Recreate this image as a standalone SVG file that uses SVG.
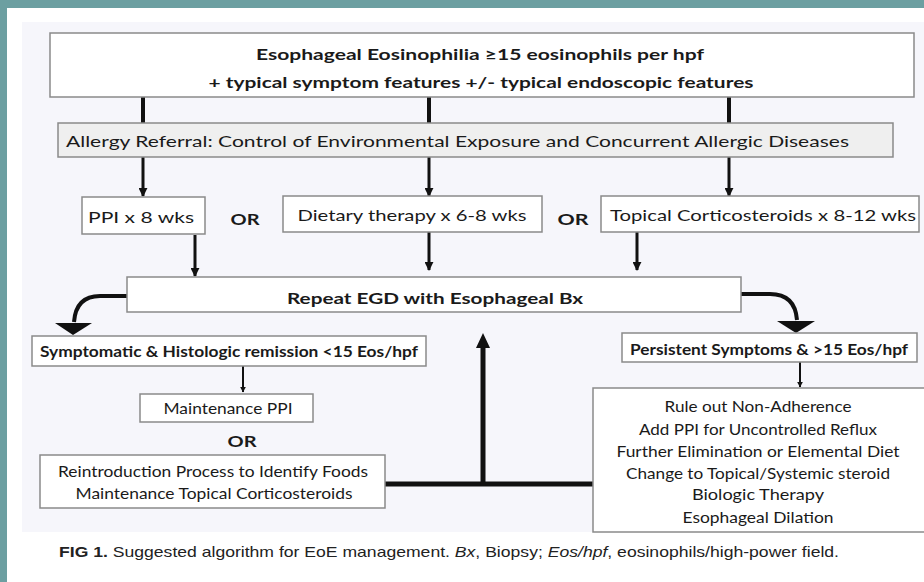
<svg xmlns="http://www.w3.org/2000/svg" width="924" height="582" viewBox="0 0 924 582">
<defs>
<style>
.box{fill:#ffffff;stroke:#8a8a8a;stroke-width:1.5}
.gbox{fill:#efefef;stroke:#8a8a8a;stroke-width:1.5}
.t{font-family:Lato,"Liberation Sans",sans-serif;fill:#1a1a1a;font-size:16px}
.b{font-weight:bold}
.c{text-anchor:middle}
.ln{stroke:#111;fill:none}
.cap{font-family:"Liberation Sans",Arial,sans-serif;fill:#222;font-size:15px}
</style>
<marker id="ah" viewBox="0 0 10 10" refX="9" refY="5" markerWidth="3" markerHeight="3" orient="auto" markerUnits="strokeWidth">
<path d="M0,0 L10,5 L0,10 z" fill="#111"/>
</marker>
</defs>
<rect x="0" y="0" width="924" height="582" fill="#6c9fa1"/>
<rect x="7" y="8" width="917" height="574" fill="#ffffff"/>
<rect x="22" y="22" width="902" height="510" fill="#f6f6fb"/>

<g id="connectors">
<line class="ln" x1="143" y1="97" x2="143" y2="123" stroke-width="4"/>
<line class="ln" x1="429" y1="97" x2="429" y2="123" stroke-width="4"/>
<line class="ln" x1="729" y1="97" x2="729" y2="123" stroke-width="4"/>
<line class="ln" x1="143" y1="157" x2="143" y2="196" stroke-width="3" marker-end="url(#ah)"/>
<line class="ln" x1="429" y1="157" x2="429" y2="196" stroke-width="3" marker-end="url(#ah)"/>
<line class="ln" x1="729" y1="157" x2="729" y2="196" stroke-width="3" marker-end="url(#ah)"/>
<line class="ln" x1="195" y1="235" x2="195" y2="276" stroke-width="3" marker-end="url(#ah)"/>
<line class="ln" x1="429" y1="232" x2="429" y2="270" stroke-width="3" marker-end="url(#ah)"/>
<line class="ln" x1="637" y1="232" x2="637" y2="270" stroke-width="3" marker-end="url(#ah)"/>
<path class="ln" d="M127,296 L100,296 Q76,296 74,322" stroke-width="4"/>
<polygon points="55,323 92,323 73,335" fill="#111"/>
<path class="ln" d="M741,294 L770,294 Q795,294 797,320" stroke-width="4"/>
<polygon points="777,321 815,321 796,333" fill="#111"/>
<line class="ln" x1="243" y1="366" x2="243" y2="392" stroke-width="2" marker-end="url(#ah)"/>
<line class="ln" x1="800" y1="362" x2="800" y2="387" stroke-width="2" marker-end="url(#ah)"/>
<line class="ln" x1="385" y1="484" x2="593" y2="484" stroke-width="5"/>
<line class="ln" x1="483" y1="486" x2="483" y2="346" stroke-width="5"/>
<polygon points="476,348 490,348 483,333" fill="#111"/>
</g>

<g id="n-top">
<rect class="box" x="50" y="33" width="864" height="64"/>
<text class="t b c" x="480" y="60" font-size="19.5" textLength="448" lengthAdjust="spacingAndGlyphs">Esophageal Eosinophilia ≥15 eosinophils per hpf</text>
<text class="t b c" x="481" y="88" font-size="19.5" textLength="545" lengthAdjust="spacingAndGlyphs">+ typical symptom features +/- typical endoscopic features</text>
</g>
<g id="n-allergy">
<rect class="gbox" x="58" y="123" width="835" height="34"/>
<text class="t" x="66" y="147" font-size="18.5" textLength="783" lengthAdjust="spacingAndGlyphs">Allergy Referral:  Control of Environmental Exposure and Concurrent Allergic Diseases</text>
</g>
<g id="n-ppi">
<rect class="box" x="82" y="197" width="123" height="37"/>
<text class="t" x="88" y="223" font-size="17.5" textLength="106" lengthAdjust="spacingAndGlyphs">PPI  x 8 wks</text>
</g>
<text class="t b c" x="245" y="225" font-size="19" textLength="29" lengthAdjust="spacingAndGlyphs">OR</text>
<g id="n-diet">
<rect class="box" x="283" y="196" width="259" height="36"/>
<text class="t c" x="412" y="221" font-size="17.5" textLength="229" lengthAdjust="spacingAndGlyphs">Dietary therapy x 6-8 wks</text>
</g>
<text class="t b c" x="573" y="225" font-size="19" textLength="31" lengthAdjust="spacingAndGlyphs">OR</text>
<g id="n-topical">
<rect class="box" x="601" y="196" width="318" height="36"/>
<text class="t c" x="763" y="221" font-size="17.5" textLength="306" lengthAdjust="spacingAndGlyphs">Topical Corticosteroids x 8-12 wks</text>
</g>
<g id="n-repeat">
<rect class="box" x="127" y="277" width="614" height="35"/>
<text class="t b c" x="435" y="304" font-size="17.5" textLength="296" lengthAdjust="spacingAndGlyphs">Repeat EGD with Esophageal Bx</text>
</g>
<g id="n-remission">
<rect class="box" x="32" y="336" width="394" height="30"/>
<text class="t b c" x="229" y="357" font-size="15.5" textLength="378" lengthAdjust="spacingAndGlyphs">Symptomatic &amp; Histologic remission &lt;15 Eos/hpf</text>
</g>
<g id="n-persistent">
<rect class="box" x="622" y="333" width="295" height="29"/>
<text class="t b c" x="769" y="355" font-size="15.5" textLength="278" lengthAdjust="spacingAndGlyphs">Persistent Symptoms &amp; &gt;15 Eos/hpf</text>
</g>
<g id="n-maintppi">
<rect class="box" x="140" y="394" width="173" height="28"/>
<text class="t c" x="228" y="414" font-size="15.5" textLength="129" lengthAdjust="spacingAndGlyphs">Maintenance PPI</text>
</g>
<text class="t b c" x="242" y="447" font-size="17" textLength="29" lengthAdjust="spacingAndGlyphs">OR</text>
<g id="n-reintro">
<rect class="box" x="40" y="455" width="345" height="53"/>
<text class="t c" x="213" y="477" font-size="16" textLength="310" lengthAdjust="spacingAndGlyphs">Reintroduction Process to Identify Foods</text>
<text class="t c" x="214" y="499" font-size="16" textLength="277" lengthAdjust="spacingAndGlyphs">Maintenance Topical Corticosteroids</text>
</g>
<g id="n-options">
<rect class="box" x="593" y="388" width="340" height="144"/>
<text class="t c" x="758" y="412" font-size="16" textLength="187" lengthAdjust="spacingAndGlyphs">Rule out Non-Adherence</text>
<text class="t c" x="758" y="435" font-size="16" textLength="238" lengthAdjust="spacingAndGlyphs">Add PPI for Uncontrolled Reflux</text>
<text class="t c" x="758" y="457" font-size="16" textLength="283" lengthAdjust="spacingAndGlyphs">Further Elimination or Elemental Diet</text>
<text class="t c" x="758" y="479" font-size="16" textLength="264" lengthAdjust="spacingAndGlyphs">Change to Topical/Systemic steroid</text>
<text class="t c" x="758" y="500" font-size="16" textLength="132" lengthAdjust="spacingAndGlyphs">Biologic Therapy</text>
<text class="t c" x="758" y="523" font-size="16" textLength="151" lengthAdjust="spacingAndGlyphs">Esophageal Dilation</text>
</g>
<text class="cap" x="59" y="557" textLength="780" lengthAdjust="spacingAndGlyphs"><tspan font-weight="bold">FIG 1.</tspan>  Suggested algorithm for EoE management. <tspan font-style="italic">Bx</tspan>, Biopsy; <tspan font-style="italic">Eos/hpf</tspan>, eosinophils/high-power field.</text>
</svg>
